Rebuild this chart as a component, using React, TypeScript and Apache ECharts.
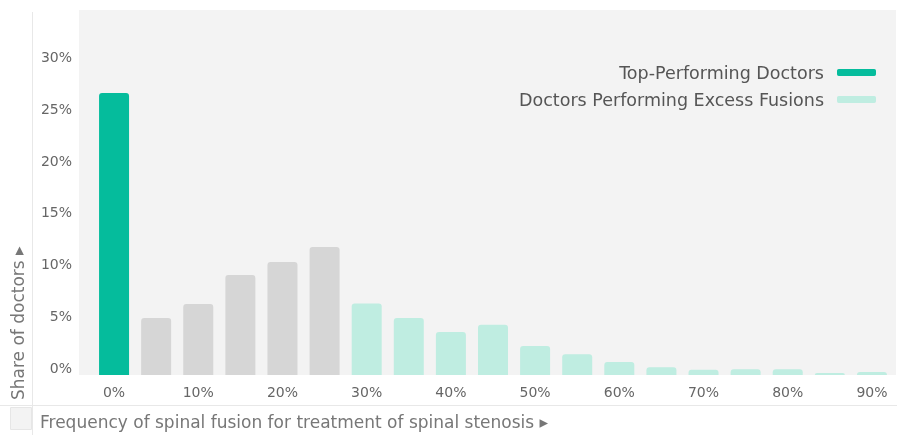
import React, { useEffect, useRef } from "react";
import * as echarts from "echarts";

const categories = ["0%", "5%", "10%", "15%", "20%", "25%", "30%", "35%", "40%", "45%", "50%", "55%", "60%", "65%", "70%", "75%", "80%", "85%", "90%"];
const shareValues = [27.2, 5.5, 6.85, 9.65, 10.9, 12.35, 6.9, 5.5, 4.15, 4.85, 2.8, 2.0, 1.25, 0.75, 0.5, 0.55, 0.55, 0.2, 0.3];
const topPerformingIdx = [0];
const excessIdx = [6, 7, 8, 9, 10, 11, 12, 13, 14, 15, 16, 17, 18];
const seriesNames = ["Top-Performing Doctors", "Doctors Performing Excess Fusions", "Other"];
const yAxisTitle = "Share of doctors \u25B8";
const xAxisTitle = "Frequency of spinal fusion for treatment of spinal stenosis \u25B8";

const FONT = "'DejaVu Sans', Inter, sans-serif";

export default function App() {
  const ref = useRef<HTMLDivElement>(null);
  useEffect(() => {
    if (!ref.current) return;
    const chart = echarts.init(ref.current, null, { renderer: "svg" });
    const pick = (idx: number[]) => shareValues.map((v, i) => (idx.includes(i) ? v : "-"));
    const otherIdx = shareValues.map((_, i) => i).filter((i) => !topPerformingIdx.includes(i) && !excessIdx.includes(i));
    const barStyle = (color: string) => ({ color, borderRadius: [3, 3, 0, 0] });
    chart.setOption({
      animation: false,
      textStyle: { fontFamily: FONT },
      grid: { left: 93, right: 4, top: 12, bottom: 60 },
      graphic: [
        { type: "rect", z: -10, shape: { x: 79, y: 10, width: 817, height: 365 }, style: { fill: "#f3f3f3" } },
        { type: "line", shape: { x1: 32.5, y1: 12, x2: 32.5, y2: 435 }, style: { stroke: "#e8e8e8", lineWidth: 1 } },
        { type: "line", shape: { x1: 0, y1: 405.5, x2: 897, y2: 405.5 }, style: { stroke: "#e8e8e8", lineWidth: 1 } },
        { type: "rect", shape: { x: 10.5, y: 407.5, width: 21, height: 22 }, style: { fill: "#f3f3f3", stroke: "#e6e6e6", lineWidth: 1 } },
        {
          type: "text", x: 18, y: 400, rotation: Math.PI / 2,
          style: { text: yAxisTitle, font: `17px ${FONT}`, fill: "#777", textAlign: "left", textVerticalAlign: "middle" },
        },
        {
          type: "text", x: 40, y: 422,
          style: { text: xAxisTitle, font: `17px ${FONT}`, fill: "#777", textAlign: "left", textVerticalAlign: "middle" },
        },
      ],
      legend: {
        data: seriesNames.slice(0, 2),
        orient: "vertical",
        right: 21,
        top: 62,
        padding: 0,
        align: "right",
        itemWidth: 39,
        itemHeight: 7,
        itemGap: 6,
        icon: "roundRect",
        selectedMode: false,
        textStyle: { fontFamily: FONT, fontSize: 17.5, color: "#555", lineHeight: 21, padding: [0, 8, 0, 0] },
      },
      xAxis: {
        type: "category",
        data: categories,
        axisLine: { show: false },
        axisTick: { show: false },
        axisLabel: { interval: 1, color: "#666", fontSize: 14, margin: 10, fontFamily: FONT },
      },
      yAxis: {
        type: "value",
        min: 0,
        max: 35,
        interval: 5,
        splitLine: { show: false },
        axisLine: { show: false },
        axisTick: { show: false },
        axisLabel: {
          color: "#666", fontSize: 14, margin: 21, verticalAlign: "bottom", fontFamily: FONT,
          formatter: (v: number) => (v >= 35 ? "" : `${v}%`),
        },
      },
      series: [
        { name: seriesNames[0], type: "bar", stack: "s", barWidth: 30, data: pick(topPerformingIdx), itemStyle: barStyle("#05bc9c") },
        { name: seriesNames[1], type: "bar", stack: "s", barWidth: 30, data: pick(excessIdx), itemStyle: barStyle("#bfede1") },
        { name: seriesNames[2], type: "bar", stack: "s", barWidth: 30, data: pick(otherIdx), itemStyle: barStyle("#d6d6d6") },
      ],
    });
    return () => chart.dispose();
  }, []);
  return <div ref={ref} style={{ position: "fixed", left: 0, top: 0, width: 897, height: 435 }} />;
}
